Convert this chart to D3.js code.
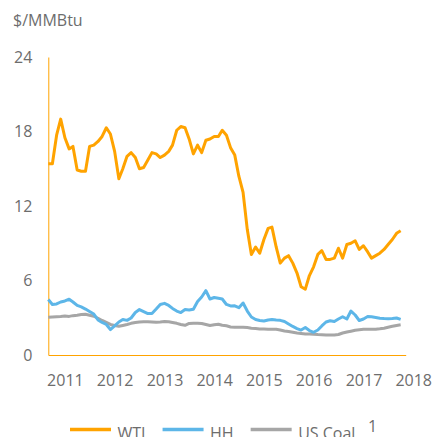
<!DOCTYPE html>
<html>
<head>
<meta charset="utf-8">
<script src="https://cdn.jsdelivr.net/npm/d3@7"></script>
<style>
  html, body { margin: 0; padding: 0; background: #fff; }
  svg { display: block; font-family: "Open Sans", "Noto Sans", sans-serif; }
</style>
</head>
<body>
<svg id="chart" width="433" height="437"></svg>
<script>
// ---- Data (monthly, starting Sep 2010) ----
const startYear = 2010, startMonth = 8; // September 2010 (0-based month)
const wti = [15.4, 15.4, 17.7, 19.0, 17.5, 16.6, 16.8, 14.9, 14.8, 14.8,
             16.8, 16.9, 17.2, 17.6, 18.3, 17.8, 16.4, 14.2, 15.0, 16.0,
             16.3, 15.9, 15.0, 15.1, 15.7, 16.3, 16.2, 15.9, 16.1, 16.4,
             16.9, 18.1, 18.4, 18.3, 17.4, 16.2, 16.9, 16.3, 17.3, 17.4,
             17.6, 17.6, 18.1, 17.7, 16.7, 16.1, 14.4, 13.1, 10.1, 8.1,
             8.7, 8.2, 9.3, 10.2, 10.3, 8.7, 7.4, 7.8, 8.0, 7.4,
             6.6, 5.5, 5.3, 6.4, 7.1, 8.1, 8.4, 7.7, 7.7, 7.8,
             8.6, 7.8, 8.9, 9.0, 9.2, 8.5, 8.8, 8.3, 7.8, 8.0,
             8.2, 8.5, 8.9, 9.3, 9.8, 10.0];
const hh = [4.47, 4.07, 4.11, 4.27, 4.35, 4.49, 4.27, 3.99, 3.87, 3.70,
            3.50, 3.30, 2.82, 2.62, 2.46, 2.05, 2.34, 2.66, 2.86, 2.79,
            2.98, 3.42, 3.66, 3.50, 3.34, 3.34, 3.70, 4.07, 4.16, 3.99,
            3.75, 3.54, 3.42, 3.66, 3.62, 3.68, 4.31, 4.67, 5.18, 4.51,
            4.63, 4.57, 4.51, 4.07, 3.95, 3.96, 3.81, 4.19, 3.54, 3.06,
            2.86, 2.78, 2.74, 2.82, 2.86, 2.82, 2.79, 2.70, 2.50, 2.30,
            2.13, 2.01, 2.21, 1.97, 1.83, 2.01, 2.34, 2.66, 2.76, 2.70,
            2.90, 3.08, 2.90, 3.54, 3.22, 2.78, 2.90, 3.10, 3.08, 3.02,
            2.96, 2.93, 2.91, 2.94, 2.98, 2.87];
const coal = [3.04, 3.06, 3.08, 3.10, 3.14, 3.11, 3.17, 3.21, 3.26, 3.28,
              3.20, 3.12, 2.96, 2.78, 2.62, 2.46, 2.38, 2.31, 2.38, 2.46,
              2.55, 2.62, 2.66, 2.68, 2.68, 2.66, 2.63, 2.66, 2.70, 2.68,
              2.62, 2.55, 2.46, 2.39, 2.54, 2.55, 2.55, 2.54, 2.46, 2.38,
              2.43, 2.48, 2.40, 2.35, 2.26, 2.23, 2.23, 2.23, 2.21, 2.16,
              2.13, 2.09, 2.09, 2.08, 2.07, 2.07, 2.01, 1.93, 1.89, 1.83,
              1.77, 1.73, 1.69, 1.69, 1.68, 1.65, 1.63, 1.61, 1.61, 1.61,
              1.65, 1.77, 1.85, 1.92, 1.99, 2.03, 2.07, 2.07, 2.07, 2.07,
              2.11, 2.16, 2.23, 2.31, 2.38, 2.43];
const seriesNames = ["WTI", "HH", "US Coal"];
const seriesColors = ["#ffa300", "#5db6e8", "#a6a6a6"];
const yTicks = [0, 6, 12, 18, 24];
const xTickYears = [2011, 2012, 2013, 2014, 2015, 2016, 2017, 2018];
const unitLabel = "$/MMBtu";
const footnote = "1";

// ---- Layout ----
const svg = d3.select("#chart");
const textColor = "#6d6d6d";
const axisColor = "#ffa300";

const months = wti.map((_, i) => new Date(startYear, startMonth + i, 1));
const x = d3.scaleTime()
  .domain([new Date(2010, 8, 1), new Date(2017, 10, 7)])
  .range([48.3, 405.7]);
const y = d3.scaleLinear().domain([0, 24]).range([355, 57]);

// Y axis
const gy = svg.append("g").attr("transform", `translate(${x.range()[0]},0)`)
  .call(d3.axisLeft(y).tickValues(yTicks).tickSize(0).tickPadding(16).tickFormat(d3.format("d")));
gy.select(".domain").attr("stroke", axisColor).attr("stroke-width", 1);
gy.selectAll("text").attr("fill", textColor).style("font-size", "16px")
  .style("font-family", "'Open Sans', sans-serif");

// X axis
const gx = svg.append("g").attr("transform", `translate(0,${y(0)})`)
  .call(d3.axisBottom(x).tickValues(xTickYears.map(yr => new Date(yr, 0, 1)))
    .tickSize(0).tickFormat(d3.timeFormat("%Y")));
gx.select(".domain").attr("stroke", axisColor).attr("stroke-width", 1);
gx.selectAll("text").attr("fill", textColor).attr("y", 20).attr("dy", "0.71em")
  .style("font-size", "16px").style("font-family", "'Open Sans', sans-serif");

// Unit label
svg.append("text").attr("x", 13).attr("y", 26).attr("fill", textColor)
  .style("font-size", "16px").text(unitLabel);

// Lines (draw coal, HH, then WTI on top)
const allSeries = [wti, hh, coal];
const line = d3.line().x((d, i) => x(months[i])).y(d => y(d));
[2, 1, 0].forEach(k => {
  svg.append("path").datum(allSeries[k])
    .attr("fill", "none")
    .attr("stroke", seriesColors[k])
    .attr("stroke-width", 3)
    .attr("stroke-linejoin", "round")
    .attr("stroke-linecap", "butt")
    .attr("d", line);
});

// Legend
const legend = svg.append("g");
let lx = 70;
const ly = 429.5;
seriesNames.forEach((name, k) => {
  legend.append("line").attr("x1", lx).attr("x2", lx + 41)
    .attr("y1", ly).attr("y2", ly)
    .attr("stroke", seriesColors[k]).attr("stroke-width", 3.5);
  const t = legend.append("text").attr("x", lx + 47.5).attr("y", 438.5)
    .attr("fill", textColor).style("font-size", "16px").text(name);
  const w = t.node().getComputedTextLength();
  if (k === seriesNames.length - 1) {
    legend.append("text").attr("x", lx + 47.5 + w + 12.5).attr("y", 432)
      .attr("fill", textColor).style("font-size", "16px").text(footnote);
  }
  lx = lx + 47.5 + w + 17;
});
</script>
</body>
</html>
